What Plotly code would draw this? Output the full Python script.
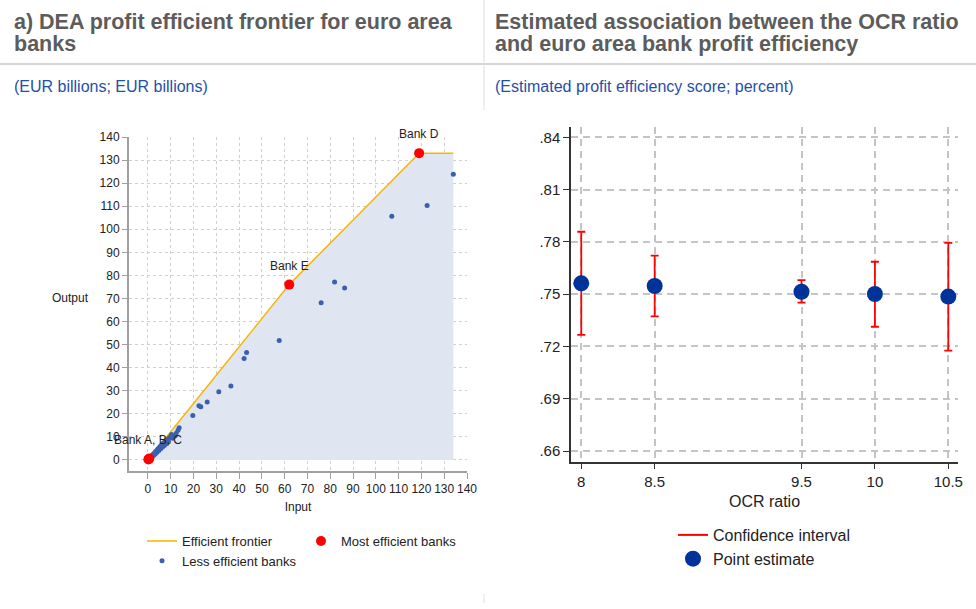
"""Two-panel chart: DEA profit efficient frontier and OCR ratio estimates."""
import plotly.graph_objects as go

FONT = 'Arial, Liberation Sans, sans-serif'
HEAD_COLOUR = '#5c5c5c'
SUB_COLOUR = '#1f4fa8'
FRONTIER_COLOUR = '#f7b500'
FILL_COLOUR = '#dfe5f1'
LESS_COLOUR = '#3a60ad'
MOST_COLOUR = 'rgb(255,0,0)'
POINT_COLOUR = '#003399'

# ---- panel a) data (EUR billions)
FRONTIER_X = [0.2, 62, 119, 134]
FRONTIER_Y = [0.2, 76, 133, 133]
MOST_X = [0.2, 0.4, 0.6, 62, 119]
MOST_Y = [0.2, 0.4, 0.6, 76, 133]
MOST_LABELS = ['Bank A, B, C', '', '', 'Bank E', 'Bank D']
LESS_X = [134, 122.5, 107, 81.9, 86.3, 76, 57.6, 43.3, 42.2, 36.4, 31.1, 26.0, 22.4, 23.2,
          19.7, 13.7, 13.2, 12.4, 10.4, 12.0, 11.0, 10.0, 9.4, 8.8, 8.2, 7.6, 7.0, 6.5, 6.0,
          5.5, 5.0, 4.6, 4.2, 3.8, 3.4, 3.0, 2.6, 2.2, 1.8, 1.4, 1.0,
          2.5, 3.2, 4.0, 4.8, 5.6, 6.4, 7.2, 8.0, 9.0, 10.8]
LESS_Y = [123.8, 110.3, 105.6, 77.1, 74.5, 68.1, 51.8, 46.6, 44.0, 32.0, 29.6, 25.1, 23.5, 23.1,
          19.3, 13.9, 12.9, 11.6, 11.0, 10.5, 9.8, 10.3, 9.6, 9.0, 8.6, 8.0, 7.4, 7.0, 6.4,
          6.0, 5.4, 5.0, 4.5, 4.0, 3.6, 3.1, 2.7, 2.3, 1.9, 1.5, 1.1,
          1.9, 2.6, 3.3, 4.1, 4.8, 5.6, 6.3, 7.0, 7.9, 9.4]
LEFT_TICKS = list(range(0, 141, 10))

# ---- right panel data
OCR = [8, 8.5, 9.5, 10, 10.5]
ESTIMATE = [0.7562, 0.7547, 0.7514, 0.7501, 0.7486]
CI_UPPER = [0.7858, 0.7721, 0.7581, 0.7686, 0.7794]
CI_LOWER = [0.7267, 0.7373, 0.7451, 0.7313, 0.7176]
RIGHT_YTICKS = [0.66, 0.69, 0.72, 0.75, 0.78, 0.81, 0.84]
RIGHT_YTEXT = ['.66', '.69', '.72', '.75', '.78', '.81', '.84']

# ---- header texts
LEFT_TITLE = ['a) DEA profit efficient frontier for euro area', 'banks']
RIGHT_TITLE = ['Estimated association between the OCR ratio', 'and euro area bank profit efficiency']
LEFT_SUB = '(EUR billions; EUR billions)'
RIGHT_SUB = '(Estimated profit efficiency score; percent)'


def build_figure() -> go.Figure:
    """Build the two panels in one figure."""
    fig = go.Figure()

    # panel a)
    fig.add_trace(go.Scatter(x=FRONTIER_X, y=FRONTIER_Y, mode='lines', fill='tozeroy',
                             fillcolor=FILL_COLOUR, line={'width': 0}, showlegend=False,
                             hoverinfo='skip', xaxis='x', yaxis='y'))
    fig.add_trace(go.Scatter(x=FRONTIER_X, y=FRONTIER_Y, mode='lines',
                             line={'color': FRONTIER_COLOUR, 'width': 1.5},
                             name='Efficient frontier', legend='legend', xaxis='x', yaxis='y'))
    fig.add_trace(go.Scatter(x=LESS_X, y=LESS_Y, mode='markers', name='Less efficient banks',
                             marker={'color': LESS_COLOUR, 'size': 5}, legend='legend',
                             xaxis='x', yaxis='y'))
    fig.add_trace(go.Scatter(x=MOST_X, y=MOST_Y, mode='markers', name='Most efficient banks',
                             marker={'color': MOST_COLOUR, 'size': 10}, legend='legend2',
                             xaxis='x', yaxis='y'))
    for x, y, label in zip(MOST_X, MOST_Y, MOST_LABELS):
        if label:
            fig.add_annotation(x=x, y=y, xref='x', yref='y', text=label, showarrow=False,
                               yshift=19, font={'size': 12, 'color': '#222222'})

    # right panel
    errs_plus = [u - e for u, e in zip(CI_UPPER, ESTIMATE)]
    errs_minus = [e - lo for e, lo in zip(ESTIMATE, CI_LOWER)]
    fig.add_trace(go.Scatter(x=OCR, y=ESTIMATE, mode='none', showlegend=False,
                             error_y={'type': 'data', 'array': errs_plus, 'arrayminus': errs_minus,
                                      'color': 'rgb(255,0,0)', 'thickness': 1.8, 'width': 4},
                             xaxis='x2', yaxis='y2'))
    fig.add_trace(go.Scatter(x=[None], y=[None], mode='lines', name='Confidence interval',
                             line={'color': 'rgb(255,0,0)', 'width': 2}, legend='legend3',
                             xaxis='x2', yaxis='y2'))
    fig.add_trace(go.Scatter(x=OCR, y=ESTIMATE, mode='markers', name='Point estimate',
                             marker={'color': POINT_COLOUR, 'size': 16}, legend='legend3',
                             xaxis='x2', yaxis='y2'))

    axis_font = {'family': FONT, 'size': 12, 'color': '#222222'}
    fig.update_layout(
        width=976, height=609,
        margin={'l': 0, 'r': 0, 't': 0, 'b': 0, 'autoexpand': False},
        paper_bgcolor='white', plot_bgcolor='white',
        font={'family': FONT, 'color': '#222222'},
        xaxis={'domain': [129 / 976, 467 / 976], 'range': [-8.3, 140], 'tickvals': LEFT_TICKS,
               'showline': True, 'linecolor': '#a0a0a0', 'linewidth': 2, 'ticks': 'outside',
               'ticklen': 6, 'tickcolor': '#a0a0a0', 'tickfont': axis_font, 'zeroline': False,
               'showgrid': True, 'gridcolor': '#cfcfcf', 'griddash': 'dot', 'gridwidth': 1,
               'title': {'text': 'Input', 'font': axis_font, 'standoff': 7}},
        yaxis={'domain': [1 - 471 / 609, 1 - 137 / 609], 'range': [-4.8, 140],
               'tickvals': LEFT_TICKS, 'showline': True, 'linecolor': '#a0a0a0', 'linewidth': 2,
               'ticks': 'outside', 'ticklen': 5, 'tickcolor': '#a0a0a0', 'tickfont': axis_font,
               'zeroline': False, 'showgrid': True, 'gridcolor': '#cfcfcf', 'griddash': 'dot',
               'gridwidth': 1},
        xaxis2={'domain': [571 / 976, 958 / 976], 'range': [7.93, 10.566], 'tickvals': OCR,
                'ticktext': ['8', '8.5', '9.5', '10', '10.5'], 'anchor': 'y2',
                'showline': True, 'linecolor': '#333333', 'linewidth': 1.5, 'ticks': 'outside',
                'ticklen': 6, 'tickcolor': '#333333', 'tickfont': {'size': 15}, 'zeroline': False,
                'showgrid': True, 'gridcolor': '#c4c4c4', 'griddash': '7px,5px', 'gridwidth': 1.5,
                'title': {'text': 'OCR ratio', 'font': {'size': 16}, 'standoff': 6}},
        yaxis2={'domain': [1 - 461.7 / 609, 1 - 127 / 609], 'range': [0.6539, 0.8459],
                'tickvals': RIGHT_YTICKS, 'ticktext': RIGHT_YTEXT, 'anchor': 'x2',
                'showline': True, 'linecolor': '#333333', 'linewidth': 1.5, 'ticks': 'outside',
                'ticklen': 6, 'tickcolor': '#333333', 'tickfont': {'size': 15}, 'zeroline': False,
                'showgrid': True, 'gridcolor': '#c4c4c4', 'griddash': '7px,5px', 'gridwidth': 1.5},
        legend={'x': 142 / 976, 'y': 1 - 526 / 609, 'xanchor': 'left', 'yanchor': 'top',
                'font': {'size': 13}, 'bgcolor': 'rgba(0,0,0,0)', 'tracegroupgap': 0,
                'traceorder': 'normal', 'itemwidth': 30},
        legend2={'x': 301 / 976, 'y': 1 - 526 / 609, 'xanchor': 'left', 'yanchor': 'top',
                 'font': {'size': 13}, 'bgcolor': 'rgba(0,0,0,0)'},
        legend3={'x': 673 / 976, 'y': 1 - 518 / 609, 'xanchor': 'left', 'yanchor': 'top',
                 'font': {'size': 16}, 'bgcolor': 'rgba(0,0,0,0)', 'tracegroupgap': 0},
    )

    # headers
    head_font = {'family': FONT, 'size': 21.5, 'color': HEAD_COLOUR}
    sub_font = {'family': FONT, 'size': 16, 'color': SUB_COLOUR}
    for left, lines in ((12, LEFT_TITLE), (493, RIGHT_TITLE)):
        for row, line in zip((22, 44), lines):
            fig.add_annotation(x=left / 976, y=1 - row / 609, xref='paper', yref='paper',
                               xanchor='left', yanchor='middle', showarrow=False,
                               font=head_font, text=f'<b>{line}</b>')
    for left, line in ((12, LEFT_SUB), (493, RIGHT_SUB)):
        fig.add_annotation(x=left / 976, y=1 - 86 / 609, xref='paper', yref='paper',
                           xanchor='left', yanchor='middle', showarrow=False, font=sub_font,
                           text=line)
    fig.add_annotation(x=70 / 976, y=1 - 298 / 609, xref='paper', yref='paper', showarrow=False,
                       xanchor='center', yanchor='middle', text='Output', font=axis_font)

    # separators
    fig.add_shape(type='line', xref='paper', yref='paper', x0=0, x1=1, y0=1 - 64 / 609,
                  y1=1 - 64 / 609, line={'color': '#d4d4d4', 'width': 2})
    fig.add_shape(type='line', xref='paper', yref='paper', x0=484 / 976, x1=484 / 976, y0=1,
                  y1=1 - 110 / 609, line={'color': '#dedede', 'width': 1})
    fig.add_shape(type='line', xref='paper', yref='paper', x0=484 / 976, x1=484 / 976,
                  y0=1 - 594 / 609, y1=1 - 603 / 609, line={'color': '#dedede', 'width': 1})
    return fig


if __name__ == '__main__':
    figure = build_figure()
    # drop the default page margin so the 976x609 figure sits flush in the window
    figure.write_html("out.html", config={'displayModeBar': False},
                      post_script="document.body.style.margin='0';"
                                  "document.body.style.overflow='hidden';")
